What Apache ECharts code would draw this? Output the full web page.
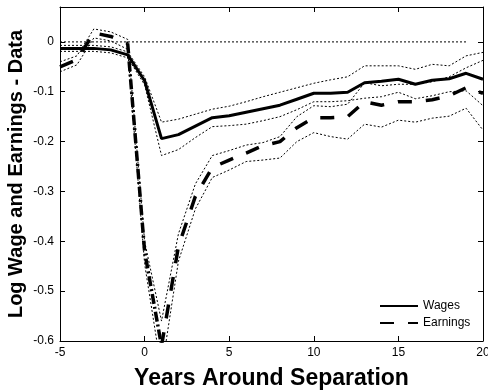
<!DOCTYPE html>
<html>
<head>
<meta charset="utf-8">
<script src="https://cdn.jsdelivr.net/npm/echarts@6/dist/echarts.min.js"></script>
<style>
  html, body { margin: 0; padding: 0; background: #fff; }
  #chart { width: 488px; height: 390px; }
</style>
</head>
<body>
<div id="chart"></div>
<script>
// years around separation
const years = [-5, -4, -3, -2, -1, 0, 1, 2, 3, 4, 5, 6, 7, 8, 9, 10, 11, 12, 13, 14, 15, 16, 17, 18, 19, 20];

// log wage, with confidence band
const wages      = [-0.013, -0.013, -0.013, -0.016, -0.026, -0.078, -0.194, -0.186, -0.169, -0.152, -0.148, -0.141, -0.134, -0.127, -0.115, -0.103, -0.103, -0.101, -0.082, -0.079, -0.075, -0.085, -0.077, -0.074, -0.063, -0.075];
const wagesUpper = [-0.007, -0.007, -0.007, -0.010, -0.020, -0.070, -0.161, -0.155, -0.145, -0.135, -0.129, -0.120, -0.110, -0.101, -0.092, -0.083, -0.076, -0.070, -0.048, -0.048, -0.048, -0.055, -0.045, -0.048, -0.028, -0.021];
const wagesLower = [-0.019, -0.019, -0.019, -0.022, -0.032, -0.086, -0.228, -0.216, -0.192, -0.170, -0.168, -0.165, -0.158, -0.150, -0.136, -0.120, -0.120, -0.118, -0.113, -0.110, -0.101, -0.114, -0.108, -0.100, -0.098, -0.128];

// log earnings, with confidence band
const earnings      = [-0.050, -0.036, 0.018, 0.011, -0.003, -0.420, -0.610, -0.410, -0.310, -0.252, -0.237, -0.223, -0.208, -0.200, -0.172, -0.152, -0.152, -0.150, -0.120, -0.127, -0.120, -0.120, -0.116, -0.108, -0.092, -0.103];
const earningsUpper = [-0.040, -0.028, 0.026, 0.020, 0.005, -0.400, -0.560, -0.385, -0.285, -0.228, -0.218, -0.207, -0.202, -0.190, -0.150, -0.128, -0.130, -0.125, -0.082, -0.088, -0.085, -0.085, -0.080, -0.070, -0.052, -0.037];
const earningsLower = [-0.060, -0.046, 0.008, 0.002, -0.015, -0.445, -0.660, -0.440, -0.335, -0.272, -0.257, -0.240, -0.237, -0.233, -0.200, -0.182, -0.190, -0.195, -0.165, -0.171, -0.157, -0.161, -0.153, -0.149, -0.133, -0.177];

// years drawn with the dash-dot look of the sharp drop
const dropYears = [-1, 0, 1];
// zero reference line
const zeroYears = [-5, 19];

const font = 'Liberation Sans, Arial, sans-serif';

function pairs(ys) {
  return years.map((y, i) => [y, ys[i]]);
}

function band(ys) {
  return {
    type: 'line',
    data: pairs(ys),
    symbol: 'none',
    silent: true,
    lineStyle: { color: '#000', width: 1, type: [2, 2] },
    z: 2
  };
}

const chart = echarts.init(document.getElementById('chart'));

const axisCommon = {
  axisLine: { show: true, onZero: false, lineStyle: { color: '#000', width: 1 } },
  axisTick: { show: true, inside: true, length: 5, lineStyle: { color: '#000' } },
  splitLine: { show: false }
};

chart.setOption({
  animation: false,
  backgroundColor: '#fff',
  grid: { left: 60, right: 5, top: 7, bottom: 49, outerBoundsMode: 'none' },
  legend: {
    data: ['Wages', 'Earnings'],
    orient: 'vertical',
    left: 374,
    top: 295,
    itemWidth: 38,
    itemHeight: 10,
    itemGap: 5,
    itemStyle: { opacity: 0 },
    textStyle: { color: '#000', fontSize: 12, fontFamily: font }
  },
  xAxis: [
    Object.assign({
      type: 'value', min: -5, max: 20, interval: 5,
      name: 'Years Around Separation',
      nameLocation: 'middle',
      nameGap: 26,
      nameTextStyle: { color: '#000', fontSize: 23, fontWeight: 'bold', fontFamily: font },
      axisLabel: { color: '#000', fontSize: 12, fontFamily: font, margin: 6 }
    }, axisCommon),
    Object.assign({
      type: 'value', min: -5, max: 20, interval: 5, position: 'top',
      axisLabel: { show: false }
    }, axisCommon)
  ],
  yAxis: [
    Object.assign({
      type: 'value', min: -0.6, max: 0.07, interval: 0.1,
      name: 'Log Wage and Earnings - Data',
      nameLocation: 'middle',
      nameGap: 34,
      nameMoveOverlap: false,
      nameTextStyle: { color: '#000', fontSize: 20, fontWeight: 'bold', fontFamily: font },
      axisLabel: { color: '#000', fontSize: 12, fontFamily: font, margin: 6, showMaxLabel: false }
    }, axisCommon),
    Object.assign({
      type: 'value', min: -0.6, max: 0.07, interval: 0.1, position: 'right',
      axisLabel: { show: false }
    }, axisCommon)
  ],
  series: [
    {
      type: 'line',
      data: zeroYears.map(y => [y, 0]),
      symbol: 'none',
      silent: true,
      lineStyle: { color: '#000', width: 1, type: [2, 2] },
      z: 1
    },
    band(wagesUpper),
    band(wagesLower),
    band(earningsUpper),
    band(earningsLower),
    {
      name: 'Wages',
      type: 'line',
      data: pairs(wages),
      symbol: 'none',
      lineStyle: { color: '#000', width: 3 },
      itemStyle: { color: '#000' },
      z: 5
    },
    {
      name: 'Earnings',
      type: 'line',
      data: years.map((y, i) => [y, (y > dropYears[0] && y < dropYears[2]) ? null : earnings[i]]),
      connectNulls: false,
      symbol: 'none',
      lineStyle: { color: '#000', width: 3.5, type: [14, 14] },
      itemStyle: { color: '#000' },
      z: 5
    },
    {
      type: 'line',
      data: dropYears.map(y => [y, earnings[years.indexOf(y)]]),
      symbol: 'none',
      silent: true,
      lineStyle: { color: '#000', width: 3.5, type: [10, 3, 2, 3] },
      z: 5
    }
  ]
});
</script>
</body>
</html>
